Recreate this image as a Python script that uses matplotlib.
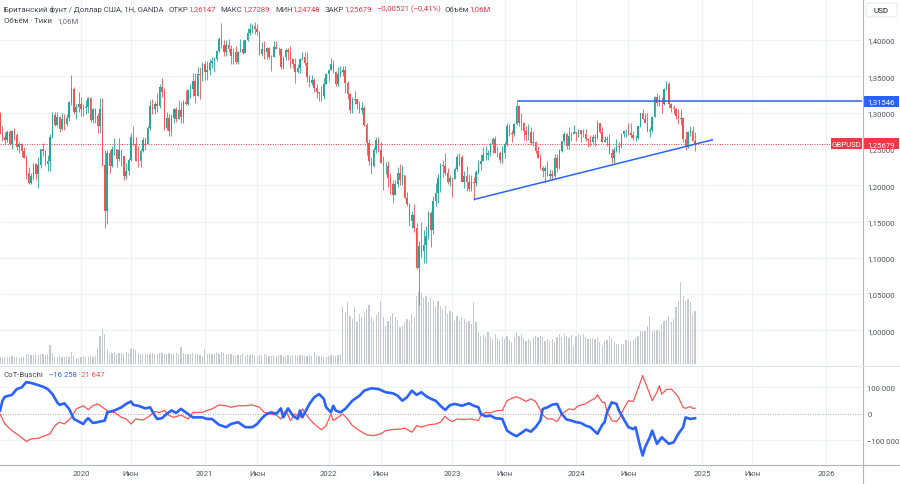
import numpy as np
import pandas as pd
import matplotlib
matplotlib.use('Agg')
import matplotlib.pyplot as plt
import matplotlib.dates as mdates
from matplotlib.patches import Rectangle, FancyBboxPatch
from matplotlib.lines import Line2D

plt.rcParams['font.family'] = ['Roboto', 'DejaVu Sans']

# weekly GBPUSD candles, prices in pips (1e-4), first week 2019-05-13
first_open = 12990
closes = [
    # 2019
    12716, 12660, 12625, 12735, 12565, 12740, 12690, 12525, 12570, 12470,
    12375, 12165, 12035, 12125, 12290, 12160, 12285, 12500, 12470, 12290,
    12330, 12665, 12970, 12835, 12935, 12775, 12910, 12840, 12930, 13150,
    13330, 13010, 13080, 13120,
    # 2020
    13055, 13070, 13075, 13205, 12895, 13045, 12960, 12820, 13050, 12280,
    11650, 12450, 12270, 12500, 12500, 12355, 12490, 12405, 12125, 12200,
    12345, 12665, 12565, 12340, 12335, 12475, 12620, 12570, 12790, 13085,
    13050, 13120, 13085, 13350, 13280, 12790, 12920, 12745, 12930, 13045,
    12915, 13030, 12940, 13150, 13115, 13305, 13325, 13435, 13225, 13525,
    13515, 13670,
    # 2021
    13565, 13585, 13685, 13705, 13735, 13850, 14015, 13925, 13840, 13925,
    13870, 13785, 13830, 13700, 13840, 13875, 13820, 13995, 14090, 14150,
    14190, 14155, 14110, 13805, 13880, 13830, 13890, 13760, 13765, 13905,
    13875, 13870, 13625, 13760, 13865, 13835, 13735, 13670, 13555, 13615,
    13745, 13765, 13680, 13495, 13410, 13450, 13335, 13280, 13265, 13235,
    13400, 13530,
    # 2022
    13590, 13675, 13555, 13395, 13530, 13565, 13590, 13410, 13255, 13035,
    13180, 13185, 13115, 13035, 13060, 12835, 12575, 12335, 12260, 12485,
    12620, 12490, 12310, 12260, 12265, 12095, 12020, 11870, 12010, 12165,
    12075, 12135, 11830, 11735, 11510, 11590, 11410, 10860, 11165, 11090,
    11175, 11300, 11615, 11380, 11780, 11890, 12095, 12275, 12265, 12165,
    12050, 12095,
    # 2023
    12090, 12225, 12395, 12395, 12050, 12120, 12040, 11945, 12040, 12035,
    12175, 12290, 12335, 12415, 12415, 12440, 12570, 12630, 12450, 12445,
    12345, 12450, 12570, 12815, 12715, 12710, 12840, 13090, 12855, 12850,
    12745, 12690, 12735, 12575, 12590, 12465, 12380, 12240, 12200, 12240,
    12130, 12160, 12125, 12375, 12235, 12465, 12605, 12705, 12545, 12680,
    12705, 12730,
    # 2024
    12720, 12755, 12705, 12705, 12635, 12625, 12600, 12670, 12650, 12860,
    12735, 12600, 12625, 12640, 12450, 12370, 12490, 12545, 12525, 12705,
    12740, 12740, 12725, 12685, 12645, 12645, 12815, 12995, 12915, 12855,
    12740, 12760, 12945, 13215, 13128, 13125, 13120, 13320, 13395, 13115,
    13065, 13050, 12960, 12915, 12920, 12630, 12530, 12735, 12745, 12614.7,
    12567.9,
]
highs = [
    13010, 12815, 12730, 12765, 12765, 12750, 12785, 12720, 12590, 12580,
    12525, 12420, 12250, 12165, 12310, 12310, 12385, 12505, 12585, 12490,
    12415, 12710, 13010, 13010, 13010, 12950, 12990, 12985, 12985, 13165,
    13515, 13350, 13115, 13285,
    13215, 13115, 13175, 13210, 13210, 13070, 13070, 13000, 13200, 13200,
    12480, 12485, 12485, 12545, 12650, 12500, 12645, 12490, 12390, 12305,
    12380, 12725, 12810, 12665, 12545, 12495, 12670, 12665, 12815, 13170,
    13185, 13160, 13265, 13395, 13480, 13345, 13005, 12980, 12980, 13060,
    13080, 13175, 13140, 13175, 13315, 13320, 13400, 13540, 13540, 13625,
    13625, 13700,
    13705, 13710, 13745, 13760, 13760, 13865, 14035, 14240, 14000, 14000,
    14015, 13930, 13890, 13920, 13845, 14010, 14005, 14005, 14165, 14235,
    14220, 14250, 14225, 14130, 13975, 13985, 13900, 13905, 13790, 13985,
    13985, 13900, 13890, 13780, 13890, 13890, 13915, 13750, 13750, 13675,
    13750, 13835, 13835, 13835, 13520, 13515, 13470, 13400, 13290, 13370,
    13470, 13545,
    13600, 13750, 13720, 13575, 13630, 13645, 13645, 13645, 13440, 13275,
    13215, 13300, 13175, 13165, 13145, 13090, 12855, 12640, 12385, 12525,
    12665, 12665, 12600, 12405, 12325, 12330, 12165, 12065, 12065, 12245,
    12295, 12275, 12145, 11900, 11760, 11650, 11740, 11475, 11235, 11495,
    11380, 11440, 11645, 11645, 11855, 12030, 12155, 12310, 12345, 12445,
    12240, 12135,
    12110, 12245, 12435, 12450, 12420, 12195, 12270, 12150, 12145, 12110,
    12205, 12345, 12425, 12525, 12545, 12485, 12585, 12665, 12680, 12545,
    12475, 12545, 12595, 12850, 12845, 12760, 12850, 13145, 13105, 13000,
    12870, 12820, 12840, 12800, 12745, 12615, 12545, 12425, 12270, 12270,
    12335, 12230, 12205, 12430, 12430, 12505, 12615, 12735, 12715, 12795,
    12735, 12825,
    12730, 12770, 12760, 12775, 12770, 12645, 12690, 12710, 12705, 12895,
    12860, 12805, 12675, 12680, 12710, 12500, 12530, 12635, 12595, 12725,
    12760, 12775, 12860, 12860, 12740, 12690, 12820, 13000, 13045, 13000,
    13000, 12800, 12945, 13230, 13265, 13240, 13215, 13345, 13435, 13415,
    13130, 13100, 13060, 13045, 13045, 12940, 12745, 12750, 12810, 12810,
    12728.9,
]
lows = [
    12705, 12605, 12560, 12600, 12560, 12505, 12620, 12480, 12440, 12385,
    12380, 12080, 12015, 12020, 12070, 12070, 11960, 12235, 12405, 12270,
    12200, 12195, 12650, 12810, 12815, 12735, 12765, 12765, 12820, 12880,
    13105, 12975, 12905, 13010,
    12955, 12955, 12985, 12995, 12870, 12850, 12850, 12725, 12725, 12260,
    11410, 11470, 12165, 12250, 12410, 12250, 12340, 12265, 12075, 12080,
    12145, 12335, 12535, 12330, 12250, 12250, 12460, 12480, 12565, 12765,
    12980, 12980, 13005, 13060, 13215, 12760, 12760, 12675, 12680, 12855,
    12865, 12915, 12855, 12855, 13105, 13105, 13205, 13225, 13135, 13280,
    13185, 13440,
    13450, 13450, 13520, 13620, 13565, 13715, 13830, 13885, 13780, 13780,
    13835, 13670, 13670, 13670, 13670, 13835, 13805, 13820, 13985, 14070,
    14090, 14080, 14075, 13790, 13785, 13735, 13735, 13745, 13570, 13765,
    13870, 13800, 13600, 13600, 13725, 13730, 13610, 13610, 13410, 13545,
    13545, 13725, 13650, 13425, 13355, 13375, 13280, 13200, 13160, 13160,
    13190, 13390,
    13430, 13590, 13540, 13360, 13360, 13490, 13505, 13275, 13190, 13000,
    13000, 13120, 13050, 13000, 12975, 12820, 12410, 12275, 12155, 12255,
    12450, 12460, 12310, 11935, 12160, 11975, 11875, 11760, 11890, 11970,
    12005, 12005, 11815, 11715, 11440, 11405, 11350, 10840, 10350, 10995,
    10925, 10925, 11260, 11150, 11330, 11710, 11760, 11900, 12110, 12140,
    12020, 11990,
    11840, 12085, 12195, 12265, 12050, 11960, 11915, 11925, 11920, 11800,
    11995, 12160, 12215, 12330, 12345, 12345, 12400, 12440, 12445, 12390,
    12305, 12310, 12370, 12545, 12675, 12590, 12675, 12830, 12810, 12760,
    12620, 12615, 12620, 12550, 12545, 12445, 12375, 12230, 12110, 12035,
    12125, 12090, 12070, 12095, 12185, 12225, 12455, 12585, 12500, 12500,
    12610, 12700,
    12610, 12665, 12595, 12665, 12615, 12520, 12535, 12570, 12540, 12630,
    12720, 12590, 12595, 12540, 12425, 12300, 12300, 12455, 12445, 12510,
    12670, 12665, 12690, 12655, 12620, 12615, 12635, 12800, 12910, 12850,
    12735, 12665, 12730, 12935, 13085, 13090, 13000, 13110, 13315, 13070,
    13010, 12975, 12910, 12840, 12835, 12600, 12485, 12510, 12680, 12610,
    12474.8,
]
# tick volume, thousands
volumes = [
    140, 130, 150, 140, 150, 160, 140, 150, 130, 140, 150,
    200, 210, 190, 180, 200, 190, 210, 200, 190, 200,
    380, 220,
    150, 150, 160, 140, 150, 160, 150, 240, 160, 130,
    130, 150, 160, 150, 140, 160, 150, 160,
    300, 560, 700, 600, 300, 200,
    220, 240, 200, 220, 230, 210, 240, 220,
    300, 320, 280,
    220, 200, 210, 220, 200, 210, 230, 200, 210, 220, 230, 210, 200, 220, 210, 200, 220, 210,
    340, 220,
    200, 210, 200, 220, 200, 210, 190, 160,
    300,
    210, 220, 200, 210, 220, 210, 240, 220, 200, 210, 200,
    180, 170, 190, 180, 200, 170, 180, 190, 200, 180, 170, 180, 190, 200,
    180, 170, 160, 180, 170, 190, 180, 170, 160, 180, 170, 190, 180, 170,
    180, 190, 170, 160, 180, 170, 240, 180, 170, 160, 150, 140, 170, 180, 190, 170, 180, 200,
    1140, 1040, 1240, 960, 900, 1140, 840, 1000, 940, 1040,
    1100, 1180, 940, 860, 980, 1040, 1260, 940, 760, 860,
    960, 1020, 940, 880, 740, 760, 840, 900, 860, 1000,
    940, 1360, 1440, 1420, 1320, 1360, 1240, 1320, 1280, 1140,
    1260, 1160, 1100, 1160, 1000, 1060, 1040, 860, 960, 860,
    940, 900, 840, 860, 800, 1240, 840, 640,
    560, 580, 540, 640, 540, 500, 600, 520, 480, 540,
    500, 560, 480, 440, 540, 640, 560, 600, 520, 460,
    500, 460, 520, 560, 540, 560, 540, 460, 500, 460,
    500, 440, 540, 600, 540, 600, 560, 520, 580, 360,
    560, 600, 580, 600, 540, 500, 500, 520, 500, 540,
    440, 360, 460, 480, 560, 500, 440, 400, 400, 400,
    400, 480, 460, 440, 480, 540, 560, 660,
    660, 660, 760, 960, 660, 680, 680, 660, 800, 860,
    860, 960, 840, 900, 1140, 1260, 1640, 1360, 1260, 1300,
    1240, 1000, 1060,
]

# CoT-Buschi lines: week number (from first candle) and value in thousands
cot_blue_weeks = [
    0, 1, 2, 5, 7, 9, 11, 13, 16, 18, 20, 22, 24, 25, 27, 29, 31, 35, 36, 37,
    39, 41, 44, 45, 48, 51, 53, 55, 56, 58, 61, 63, 65, 66, 68, 70, 72, 74, 76, 79,
    81, 85, 87, 89, 92, 95, 97, 100, 103, 106, 108, 110, 112, 114, 116, 118, 119, 121, 123, 125,
    126, 127, 130, 132, 134, 136, 137, 139, 140, 141, 143, 145, 148, 151, 153, 156, 159, 162, 165, 167,
    169, 171, 173, 175, 177, 179, 181, 183, 185, 187, 189, 191, 194, 197, 199, 201, 202, 204, 206, 208,
    211, 213, 215, 217, 219, 221, 223, 225, 227, 228, 230, 232, 234, 236, 238, 240, 242, 244, 246, 248,
    251, 253, 254, 255, 257, 259, 260, 262, 264, 266, 267, 269, 270, 271, 273, 274, 276, 278, 281, 283,
    285, 287, 288, 290, 292,
]
cot_blue = [
    13, 50, 65, 72, 94, 100, 120, 117, 109, 103, 94, 75, 44, 34, 40, 19, -19, -38, -25, -16,
    -34, -31, -25, 6, 13, 25, 38, 47, 34, 31, 21, 25, -6, -19, -16, 0, 13, 4, 19, 0,
    -13, -13, -19, -19, -41, -50, -38, -31, -50, -50, -38, -16, 0, 6, 0, 21, -13, 21, -6, -19,
    13, -13, 38, 63, 75, 57, 25, 6, 31, 13, 6, 19, 50, 69, 88, 97, 94, 82, 78, 69,
    50, 63, 88, 72, 82, 67, 57, 50, 31, 15, 33, 38, 31, 40, 31, 25, 0, -9, -6, -16,
    -19, -63, -75, -84, -72, -59, -67, -50, -25, 19, 25, 35, 38, 0, -21, -25, -31, -34, -44, -50,
    -75, -41, -31, 6, 44, 38, 13, -19, -50, -57, -50, -126, -157, -126, -88, -63, -113, -88, -113, -107,
    -75, -50, -13, -19, -16.258,
]
cot_red_weeks = [
    0, 2, 5, 8, 11, 13, 16, 19, 21, 23, 25, 27, 30, 32, 35, 37, 39, 41, 44, 46,
    48, 51, 53, 55, 57, 60, 62, 65, 67, 69, 71, 73, 76, 79, 81, 85, 87, 89, 92, 95,
    97, 100, 103, 106, 109, 111, 113, 116, 118, 120, 122, 124, 126, 127, 130, 132, 135, 137, 139, 140,
    142, 144, 146, 148, 151, 154, 157, 160, 162, 165, 168, 170, 173, 175, 177, 180, 183, 185, 187, 188,
    190, 192, 195, 198, 201, 202, 204, 206, 209, 211, 213, 215, 217, 219, 221, 223, 225, 226, 228, 230,
    232, 234, 236, 239, 241, 243, 246, 248, 250, 251, 253, 254, 255, 257, 259, 260, 262, 264, 266, 267,
    269, 270, 271, 273, 274, 276, 277, 278, 280, 282, 284, 285, 287, 288, 290, 291, 292,
]
cot_red = [
    0, -38, -63, -82, -104, -94, -92, -82, -75, -44, -31, -38, -13, 19, 31, 16, 31, 38, 19, 6,
    6, -13, -19, -38, -19, -23, -13, 9, 6, 13, -6, -13, -4, -19, 6, 6, 13, 19, 34, 31,
    25, 31, 31, 34, 25, 6, 0, -4, -19, 13, -25, 0, -13, 19, -19, -38, -60, -44, 0, -25,
    -13, 0, -19, -44, -63, -79, -82, -75, -63, -59, -57, -54, -69, -44, -50, -41, -38, -31, -9, -19,
    -29, -19, -21, -19, -25, -6, 6, 4, 13, 13, 50, 59, 65, 57, 47, 57, 47, 31, -4, -19,
    -19, -29, 0, 19, 16, 31, 38, 50, 59, 72, 44, 44, 9, -25, -29, -19, 19, 50, 47, 69,
    120, 145, 120, 75, 50, 82, 107, 75, 92, 94, 75, 63, 25, 21, 28, 21, 21.647,
]

resistance = 1.31546
resistance_start = '2023-07-10'
trend_dates = ['2023-03-08', '2025-02-05']
trend_prices = [1.1805, 1.2625]

price_levels = [1.00, 1.05, 1.10, 1.15, 1.20, 1.25, 1.30, 1.35, 1.40]
time_ticks = ['2020-01-06', '2020-06-01', '2021-01-04', '2021-06-07', '2022-01-03', '2022-06-06',
              '2023-01-02', '2023-06-05', '2024-01-01', '2024-06-03', '2025-01-06', '2025-06-02',
              '2026-01-05']
time_labels = ['2020', 'Июн', '2021', 'Июн', '2022', 'Июн', '2023', 'Июн', '2024', 'Июн',
               '2025', 'Июн', '2026']

UP = '#26a69a'
DN = '#ef5350'
BLUE = '#2962ff'
RED = '#f23645'
GRID = '#eef1f7'
TXT = '#50535e'

c = np.array(closes, dtype=float) / 1e4
o = np.concatenate([[first_open / 1e4], c[:-1]])
h = np.maximum(np.array(highs, dtype=float) / 1e4, np.maximum(o, c))
l = np.minimum(np.array(lows, dtype=float) / 1e4, np.minimum(o, c))
dates = pd.date_range('2019-05-13', periods=len(c), freq='W-MON')
xd = mdates.date2num(dates)
last_price = c[-1]

W, H = 900, 485
fig = plt.figure(figsize=(9, 4.85), dpi=100)


def fx(px):
    return px / W


def fy(py):
    return 1 - py / H


price_rect = [0, fy(365), fx(862), 365 / H]
axv = fig.add_axes(price_rect)
ax = fig.add_axes(price_rect, sharex=axv)
ax.patch.set_visible(False)
axc = fig.add_axes([0, fy(465), fx(862), 98 / H], sharex=axv)

x0 = mdates.date2num(pd.Timestamp('2020-01-06'))
px_day = 2.38 / 7
xlim = (x0 - 81 / px_day, x0 + (862 - 81) / px_day)
tick_x = mdates.date2num(pd.to_datetime(time_ticks))

for a in (axv, ax, axc):
    for s in a.spines.values():
        s.set_visible(False)
    a.set_xlim(xlim)

ax.set_ylim(1.40 - 324 / 726, 1.40 + 41 / 726)
axv.set_ylim(0, 365 * 20)
axc.set_ylim(-189000, 181000)

# grid
for t in tick_x:
    axv.axvline(t, color=GRID, lw=0.8, zorder=0)
    axc.axvline(t, color=GRID, lw=0.8, zorder=0)
axv.hlines(price_levels, xlim[0], xlim[1], color=GRID, lw=0.8, zorder=0, transform=ax.transData)
axc.axhline(100000, color=GRID, lw=0.8, zorder=0)
axc.axhline(-100000, color=GRID, lw=0.8, zorder=0)
axc.axhline(0, color='#8a8d96', lw=0.6, ls=(0, (1, 2)), zorder=1)

# volume
axv.bar(xd, volumes, width=3.6, color='#c6c8ce', linewidth=0, zorder=2)
axv.set_yticks([])
axv.tick_params(axis='x', length=0, labelbottom=False)

# candles
cols = [UP if cc >= oo else DN for oo, cc in zip(o, c)]
ax.vlines(xd, l, h, colors=cols, lw=0.6, zorder=3)
ax.bar(xd, np.maximum(np.abs(c - o), 0.0004), bottom=np.minimum(o, c), width=4.4,
       color=cols, linewidth=0, zorder=4)

# drawings
ax.hlines(resistance, mdates.date2num(pd.Timestamp(resistance_start)), xlim[1],
          color=BLUE, lw=1.1, zorder=5)
ax.plot(mdates.date2num(pd.to_datetime(trend_dates)), trend_prices, color=BLUE, lw=1.1, zorder=5)
ax.axhline(last_price, color=RED, lw=0.7, ls=(0, (1, 1.5)), zorder=2)

ax.yaxis.tick_right()
ax.set_yticks(price_levels)
ax.set_yticklabels([f'{v:.5f}'.replace('.', ',') for v in price_levels])
ax.tick_params(axis='y', length=0, pad=3.8, labelsize=5.6, labelcolor=TXT)
ax.tick_params(axis='x', length=0, labelbottom=False)

# price labels on the scale
yt = ax.get_yaxis_transform()
bh = 11 / 726
for val, fc in ((resistance, BLUE), (last_price, RED)):
    ax.add_patch(Rectangle((863 / 862, val - bh / 2), 36 / 862, bh, transform=yt,
                           facecolor=fc, edgecolor='none', clip_on=False, zorder=10))
    ax.text(881 / 862, val, f'{val:.5f}'.replace('.', ','), transform=yt, ha='center',
            va='center', color='white', fontsize=5.6, clip_on=False, zorder=11)
ax.add_patch(Rectangle((831 / 862, last_price - bh / 2), 31 / 862, bh, transform=yt,
                       facecolor=RED, edgecolor='none', clip_on=False, zorder=10))
ax.text(846.5 / 862, last_price, 'GBPUSD', transform=yt, ha='center', va='center',
        color='white', fontsize=5.6, clip_on=False, zorder=11)

# CoT pane
axc.plot(xd[cot_red_weeks], np.array(cot_red) * 1000, color='#ff5252', lw=0.9, zorder=3)
axc.plot(xd[cot_blue_weeks], np.array(cot_blue) * 1000, color=BLUE, lw=1.9, zorder=4)
axc.yaxis.tick_right()
axc.set_yticks([100000, 0, -100000])
axc.set_yticklabels(['100 000', '0', '\u2212100 000'])
axc.tick_params(axis='y', length=0, pad=3.8, labelsize=5.6, labelcolor=TXT)
axc.set_xticks(tick_x)
axc.set_xticklabels(time_labels)
axc.tick_params(axis='x', length=0, pad=4.2, labelsize=5.6, labelcolor=TXT)

# frame lines
fig.add_artist(Line2D([fx(862.5)] * 2, [0, 1], color='#b2b5be', lw=0.8))
fig.add_artist(Line2D([0, 1], [fy(366.5)] * 2, color='#e0e3eb', lw=0.8))
fig.add_artist(Line2D([0, 1], [fy(465.5)] * 2, color='#b2b5be', lw=0.8))

fig.add_artist(FancyBboxPatch((fx(866), fy(18)), fx(31), 14 / H,
                              boxstyle='round,pad=0,rounding_size=0.004',
                              facecolor='white', edgecolor='#e0e3eb', lw=0.6))
fig.text(fx(881.5), fy(11), 'USD', ha='center', va='center', fontsize=5.8, color='#131722')

renderer = fig.canvas.get_renderer()


def text_row(pieces, x, y, fs=5.6):
    for s, col, gap in pieces:
        t = fig.text(fx(x), fy(y), s, color=col, fontsize=fs, ha='left', va='center')
        x += t.get_window_extent(renderer).width + gap


GREY = '#434651'
text_row([('Британский фунт / Доллар США, 1Н, OANDA', GREY, 5),
          ('ОТКР', GREY, 0), ('1,26147', RED, 5),
          ('МАКС', GREY, 0), ('1,27289', RED, 5),
          ('МИН', GREY, 0), ('1,24748', RED, 5),
          ('ЗАКР', GREY, 0), ('1,25679', RED, 5),
          ('\u22120,00521 (\u22120,41%)', RED, 4),
          ('Объём', GREY, 0), ('1,06M', RED, 0)], 4, 9.5)
text_row([('Объём · Тики', GREY, 5), ('1,06M', '#6a6d78', 0)], 4, 21)
text_row([('CoT-Buschi', GREY, 5), ('\u221216 258', BLUE, 4), ('21 647', '#ff5252', 0)], 4, 375)

fig.savefig('out.png', dpi=100)
